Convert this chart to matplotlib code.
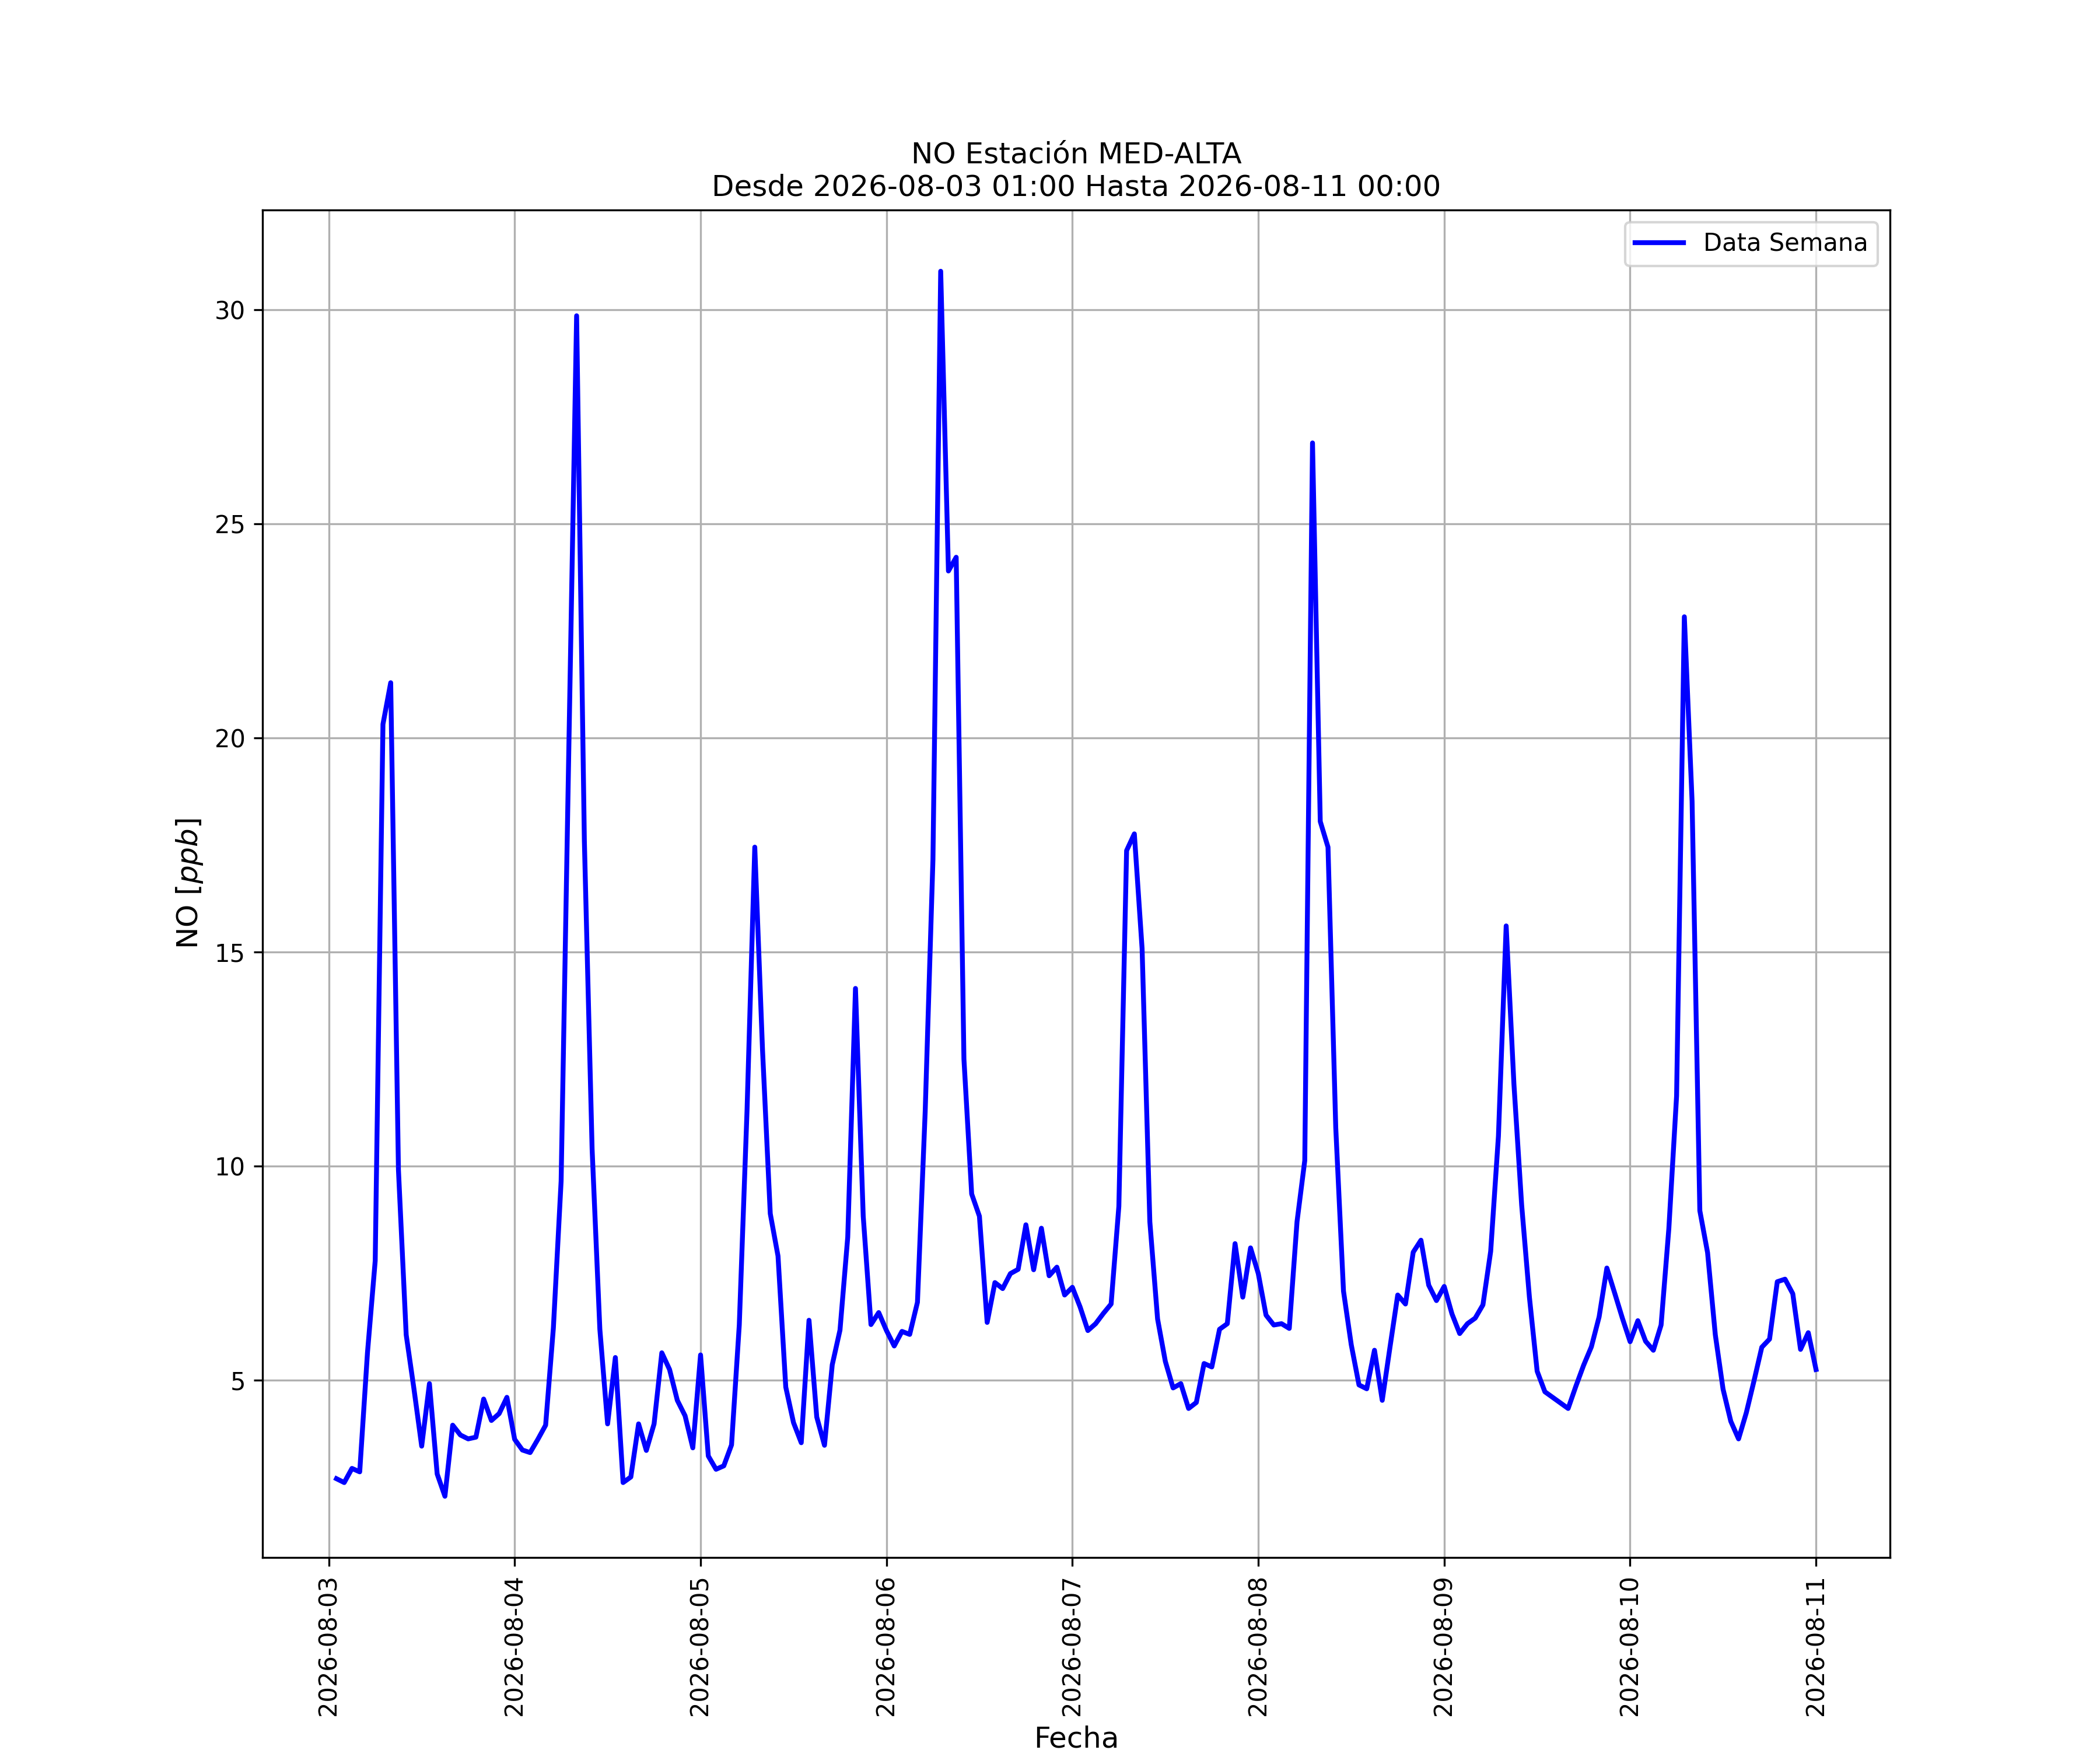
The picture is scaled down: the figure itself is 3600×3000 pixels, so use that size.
import pandas as pd
import matplotlib
matplotlib.use("Agg")
import matplotlib.pyplot as plt

# NO horario [ppb], una lista por dia (01:00 ... 24:00)
no_0803 = [2.70, 2.61, 2.94, 2.86, 5.64, 7.79, 20.32, 21.29, 9.91, 6.06, 4.80, 3.46,
           4.92, 2.81, 2.29, 3.95, 3.72, 3.63, 3.67, 4.56, 4.06, 4.22, 4.60, 3.62]
no_0804 = [3.37, 3.31, 3.62, 3.95, 6.22, 9.65, 19.80, 29.86, 17.60, 10.40, 6.19, 3.98,
           5.53, 2.61, 2.74, 3.98, 3.36, 3.98, 5.64, 5.25, 4.53, 4.17, 3.42, 5.59]
no_0805 = [3.23, 2.92, 3.00, 3.49, 6.29, 11.30, 17.45, 12.71, 8.89, 7.90, 4.84, 4.01,
           3.54, 6.40, 4.14, 3.48, 5.36, 6.17, 8.34, 14.15, 8.83, 6.30, 6.58, 6.16]
no_0806 = [5.80, 6.14, 6.07, 6.82, 11.28, 17.16, 30.90, 23.90, 24.22, 12.50, 9.35, 8.83,
           6.35, 7.28, 7.14, 7.49, 7.59, 8.63, 7.58, 8.55, 7.44, 7.64, 6.99, 7.17]
no_0807 = [6.71, 6.16, 6.32, 6.56, 6.78, 9.06, 17.37, 17.76, 15.08, 8.70, 6.43, 5.44,
           4.82, 4.92, 4.34, 4.48, 5.39, 5.31, 6.19, 6.32, 8.19, 6.94, 8.09, 7.49]
no_0808 = [6.52, 6.29, 6.32, 6.21, 8.70, 10.13, 26.89, 18.05, 17.45, 10.90, 7.08, 5.83,
           4.89, 4.80, 5.70, 4.53, 5.77, 6.99, 6.78, 7.99, 8.27, 7.22, 6.86, 7.19]
no_0809 = [6.55, 6.09, 6.32, 6.45, 6.76, 8.01, 10.70, 15.61, 11.92, 9.09, 6.94, 5.21,
           4.73, 4.60, 4.47, 4.34, 4.86, 5.35, 5.78, 6.48, 7.62, 7.04, 6.45, 5.90]
no_0810 = [6.39, 5.91, 5.70, 6.29, 8.54, 11.64, 22.83, 18.52, 8.96, 7.98, 6.06, 4.79,
           4.04, 3.63, 4.24, 4.99, 5.77, 5.96, 7.30, 7.36, 7.02, 5.72, 6.11, 5.25]

inicio = "2026-08-03 01:00"
fin = "2026-08-11 00:00"

valores = no_0803 + no_0804 + no_0805 + no_0806 + no_0807 + no_0808 + no_0809 + no_0810
fechas = pd.date_range(inicio, periods=len(valores), freq="h")

fig = plt.figure(figsize=(12, 10))
plt.plot(fechas, valores, color="b", linewidth=2, label="Data Semana")
plt.title("NO Estación MED-ALTA\nDesde " + inicio + " Hasta " + fin)
plt.ylabel("NO [$ppb$]", fontsize=12)
plt.xlabel("Fecha", fontsize=12)
plt.xticks(rotation=90)
plt.grid(True)
plt.legend(loc="upper right")
plt.savefig("out.png", dpi=300)
